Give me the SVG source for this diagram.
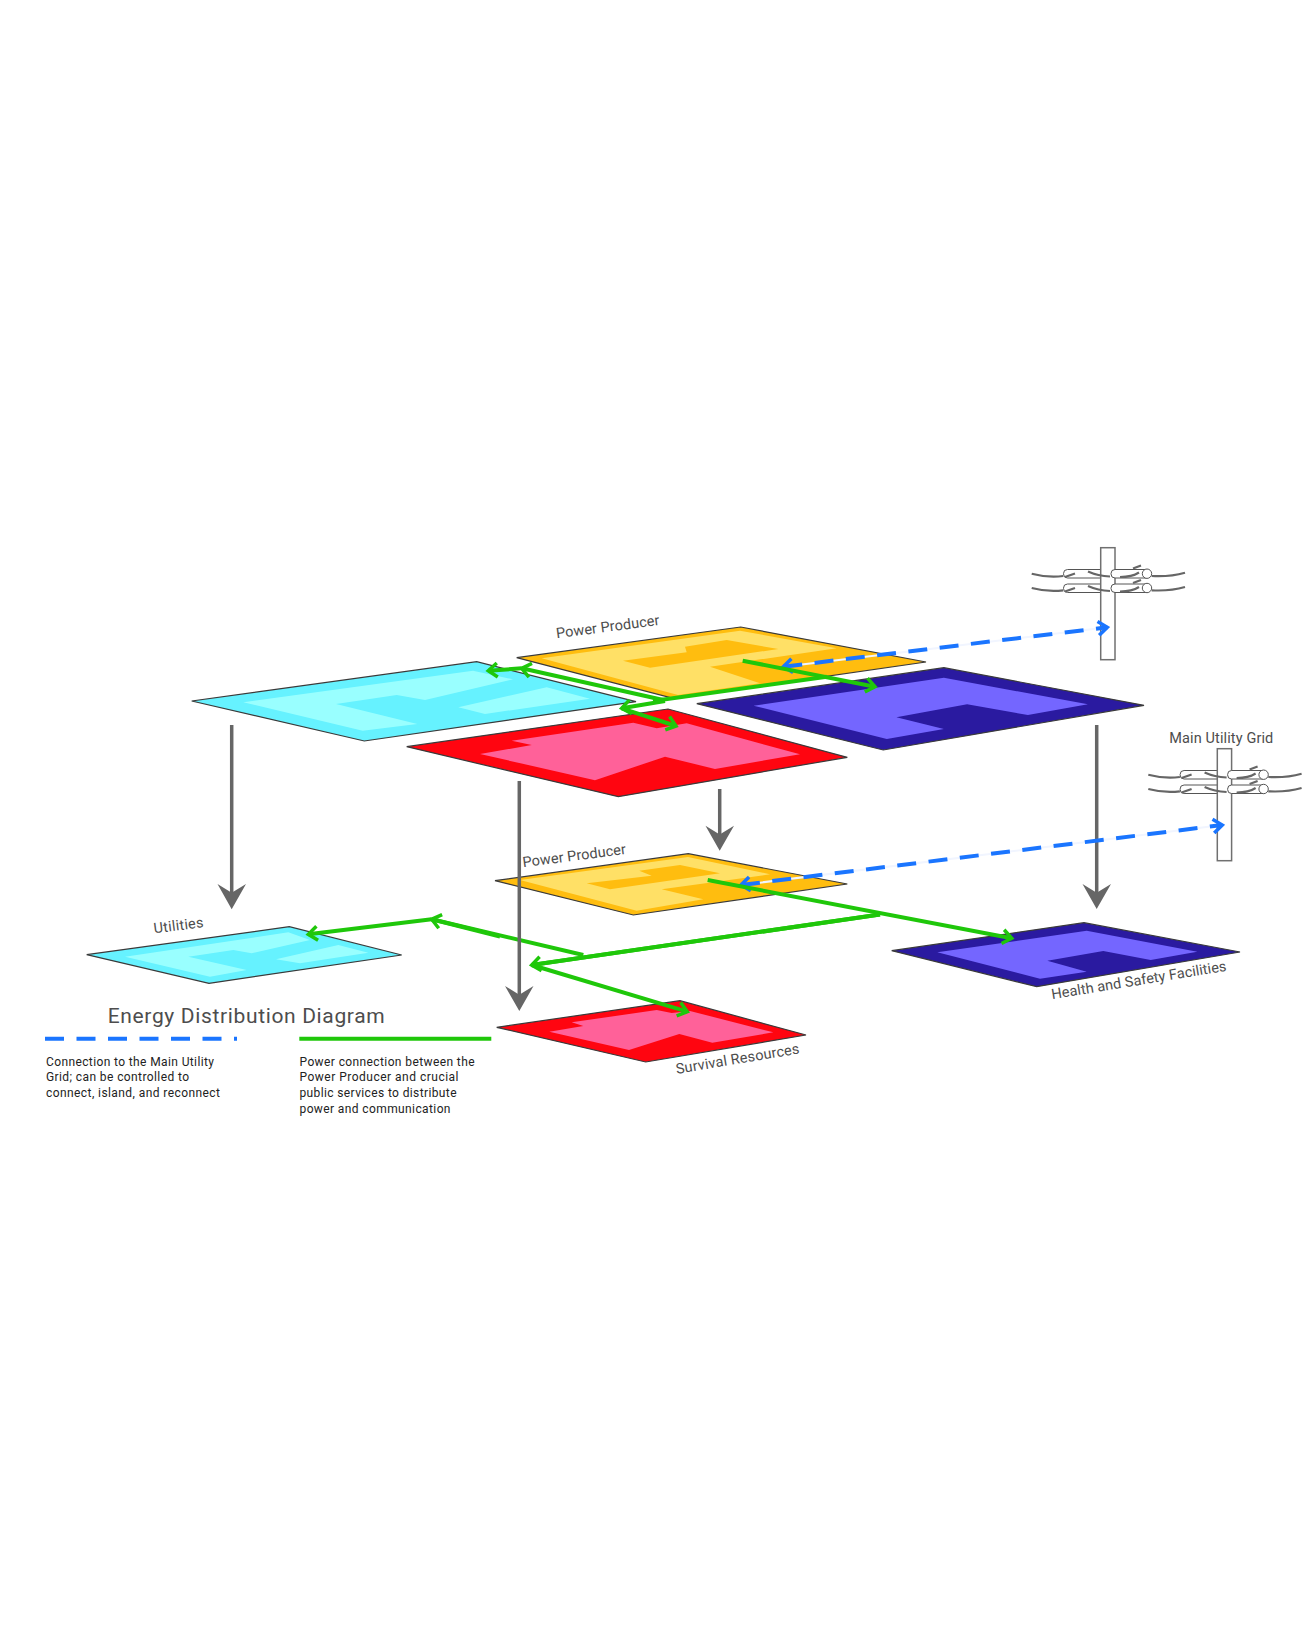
<svg xmlns="http://www.w3.org/2000/svg" width="1313" height="1650" viewBox="0 0 1313 1650">
<style>
text{font-family:"Roboto","Liberation Sans",sans-serif;fill:#4d4d4d}
.lab{font-size:14.5px}
.leg{font-size:12px;fill:#222}
.edge{stroke:#3a3a3a;stroke-width:1.2;stroke-linejoin:miter}
.cy1{fill:#66f2ff}.cy2{fill:#99ffff}
.re1{fill:#ff0510}.re2{fill:#ff6199}
.ye1{fill:#ffbd0f}.ye2{fill:#ffe066}
.bl1{fill:#2a1aa0}.bl2{fill:#7466ff}
.gr{fill:none;stroke:#1fc70a;stroke-width:4}
.gra{marker-end:url(#gh)}
.das{fill:none;stroke:#1a75ff;stroke-width:4;stroke-dasharray:19 12.5}
.pal{fill:none;stroke:#f1f5ff;stroke-width:2}
.tip{marker-start:url(#bh);marker-end:url(#bh)}
.gy{stroke:#666;stroke-width:3.5;fill:none}
.hd{fill:#666}
.wire{fill:none;stroke:#666;stroke-width:2.2}
.box{fill:#fff;stroke:#555;stroke-width:1}
.post{fill:#fff;stroke:#707070;stroke-width:1.5}
</style>
<defs>
<marker id="gh" markerUnits="userSpaceOnUse" markerWidth="20" markerHeight="20" refX="10" refY="10" orient="auto" overflow="visible"><path d="M1,3 L10,10 L1,17" fill="none" stroke="#1fc70a" stroke-width="3.5"/></marker>
<marker id="bh" markerUnits="userSpaceOnUse" markerWidth="20" markerHeight="20" refX="10" refY="10" orient="auto-start-reverse" overflow="visible"><path d="M1,3 L10,10 L1,17" fill="none" stroke="#1a75ff" stroke-width="3.5"/></marker>
<g id="polegfx">
<path class="wire" d="M1031.7,573.7 Q1048,578 1063.3,576 M1151.7,576 Q1170,577 1185,572.7"/>
<path class="wire" d="M1031.7,588 Q1048,592.3 1063.3,590.3 M1151.7,590.3 Q1170,591.3 1185,587"/>
<rect class="box" x="1063.5" y="569.5" width="50" height="8.5" rx="4"/>
<rect class="box" x="1063.5" y="584" width="50" height="8.5" rx="4"/>
<rect class="post" x="1100.7" y="547.7" width="14.3" height="112"/>
<rect class="box" x="1111" y="569.5" width="39" height="8.5" rx="4"/>
<rect class="box" x="1111" y="584" width="39" height="8.5" rx="4"/>
<circle class="box" cx="1147" cy="573.7" r="4.7"/>
<circle class="box" cx="1147" cy="588" r="4.7"/>
<path class="wire" d="M1065,577 L1075,573.5 M1088,571.5 Q1098,576 1110,576.5 M1120,577 Q1132,577 1139,572.5 M1133,568.5 L1141,565.5"/>
<path class="wire" d="M1065,591.5 L1075,588 M1088,586 Q1098,590.5 1110,591 M1120,591.5 Q1132,591.5 1139,587 M1133,583 L1141,580"/>
</g>
</defs>
<rect width="1313" height="1650" fill="#fff"/>

<g id="node-utilities-top">
<polygon class="cy1 edge" points="191.7,701 476.7,661.7 636,701.7 364.3,741"/>
<polygon class="cy2" points="243.3,702.3 473,670.7 513,679.3 425,700 396.7,695 336,704 417.3,724 362.7,730.7"/>
<polygon class="cy2" points="546.7,687.3 590,698.7 485,714 458.3,707.3"/>
</g>
<g id="node-survival-top">
<polygon class="re1 edge" points="406.7,746.7 668,709 847.3,757.3 618.3,796.7"/>
<polygon class="re2" points="633.3,722.7 656.7,728.3 686.7,723.3 800,754.3 715,769 665,756.7 595,780.3 480,754 531.7,745 511.7,740.7"/>
</g>
<g id="node-producer-top">
<text class="lab" transform="translate(556.7,638.3) rotate(-7.4)" textLength="104">Power Producer</text>
<polygon class="ye1 edge" points="516.7,657.7 740.7,627 926,662 673.3,698.3"/>
<polygon class="ye2" points="541.7,658.3 740,630.7 836.7,648.3 710,666.7 760,683.3 678,695"/>
<polygon class="ye1" points="623,660.7 686.7,652.3 685,646.7 726.7,640 778.3,649 650,667.7"/>
</g>
<g id="node-health-top">
<polygon class="bl1 edge" points="696.8,703.7 943.9,667.7 1144,705.3 883.2,750"/>
<polygon class="bl2" points="753.6,705.7 943.9,677.7 1087.9,704.3 1027.9,715 967.1,704.3 896.4,717.3 943.9,729 886.8,739"/>
</g>
<g id="node-pole-top"><use href="#polegfx"/></g>
<g id="node-pole-bottom">
<text class="lab" x="1169.3" y="742.7" textLength="104">Main Utility Grid</text>
<use href="#polegfx" transform="translate(116.6,201)"/>
</g>
<g id="node-producer-bottom">
<text class="lab" transform="translate(523.3,867.3) rotate(-7.4)" textLength="104">Power Producer</text>
<polygon class="ye1 edge" points="495,880.7 688.3,853.7 847.3,884 633.3,915"/>
<polygon class="ye2" points="520,880 688,857 770,874.3 661.7,889.3 703.3,899.3 636.7,910.7"/>
<polygon class="ye1" points="586.7,883.3 651.7,875.7 639.3,870.7 680,865 720,873.3 610,889.3"/>
</g>
<g id="node-utilities-bottom">
<text class="lab" transform="translate(154.3,933.3) rotate(-7)" textLength="50">Utilities</text>
<polygon class="cy1 edge" points="86.7,954.7 289.3,926.7 401.7,955 209,983.3"/>
<polygon class="cy2" points="125,956.7 288.3,932.3 310,940 251.7,953.3 233.3,950 188.3,956.7 246.7,970 210,976.7"/>
<polygon class="cy2" points="338.3,945 368.3,952.7 300,963.3 276,959.3"/>
</g>
<g id="node-survival-bottom">
<polygon class="re1 edge" points="496.7,1027.3 680,1000.7 806,1035 645.7,1062"/>
<polygon class="re2" points="571.7,1022.3 656.7,1010 671.7,1013 690,1011 773.3,1032.3 712.3,1042.7 679.3,1034 629,1050 549.3,1031.7 583.3,1026"/>
<text class="lab" transform="translate(676.7,1074) rotate(-9.5)" textLength="125">Survival Resources</text>
</g>
<g id="node-health-bottom">
<polygon class="bl1 edge" points="891.7,950.7 1084,922.7 1240,952 1036.7,986.7"/>
<polygon class="bl2" points="937.3,952.3 1086.7,930.7 1197.3,951.7 1150.7,960 1103.3,951 1047.3,960.7 1086.7,971.7 1040,978.7"/>
<text class="lab" transform="translate(1052.3,999.3) rotate(-9.3)" textLength="177">Health and Safety Facilities</text>
</g>

<g id="connectors">
<path class="gr" d="M880,914.5 L531.7,965"/>
<path class="gr" d="M583.3,955 L431.7,919.3"/>
<g>
<line class="gy" x1="231.7" y1="725" x2="231.7" y2="895"/><polygon class="hd" points="231.7,909.3 217.5,884 231.7,892.7 246,884"/>
<line class="gy" x1="519.3" y1="781" x2="519.3" y2="997"/><polygon class="hd" points="519.3,1011 505,986 519.3,994.7 533.5,986"/>
<line class="gy" x1="719.7" y1="789" x2="719.7" y2="836"/><polygon class="hd" points="719.7,850.7 705.5,825.7 719.7,834.4 734,825.7"/>
<line class="gy" x1="1096.7" y1="725" x2="1096.7" y2="895"/><polygon class="hd" points="1096.7,909 1082.5,884 1096.7,892.7 1111,884"/>
</g>
<path class="pal" d="M783.3,666.7 L1107.3,627.3"/>
<path class="das tip" d="M783.3,666.7 L1107.3,627.3"/>
<path class="pal" d="M741,885 L1222.3,825"/>
<path class="das tip" d="M741,885 L1222.3,825"/>
<path class="gr gra" d="M742.7,660.7 L875,686.7"/>
<path class="gr" d="M826.7,676.7 L653,701"/>
<path class="gr gra" d="M663.3,700 L521.7,668.3"/>
<path class="gr gra" d="M521.7,668.3 L488.3,670.7"/>
<path class="gr gra" d="M665,701 L621.7,708.3"/>
<path class="gr gra" d="M621.7,708.3 L676,726"/>
<path class="gr gra" d="M707.7,880 L1011.7,938.3"/>
<path class="gr gra" d="M531.7,965 L687.3,1011.7"/>
<path class="gr gra" d="M880,914.5 L531.7,965"/>
<path class="gr gra" d="M431.7,919.3 L308.3,934.3"/>
<path class="gr gra" d="M500,936.5 L431.7,919.3"/>
</g>

<g id="legend">
<text x="107.7" y="1022.5" font-size="21" textLength="277">Energy Distribution Diagram</text>
<line class="das" x1="45" y1="1038.7" x2="237" y2="1038.7" stroke-dasharray="18.7 12.3"/>
<line class="gr" x1="299.3" y1="1038.7" x2="491.3" y2="1038.7"/>
<text class="leg" x="46" y="1065.7" textLength="168">Connection to the Main Utility</text>
<text class="leg" x="46" y="1081.3" textLength="143">Grid; can be controlled to</text>
<text class="leg" x="46" y="1097" textLength="174">connect, island, and reconnect</text>
<text class="leg" x="299.5" y="1065.7" textLength="175">Power connection between the</text>
<text class="leg" x="299.5" y="1081.3" textLength="159">Power Producer and crucial</text>
<text class="leg" x="299.5" y="1097" textLength="157">public services to distribute</text>
<text class="leg" x="299.5" y="1112.6" textLength="151">power and communication</text>
</g>
</svg>
